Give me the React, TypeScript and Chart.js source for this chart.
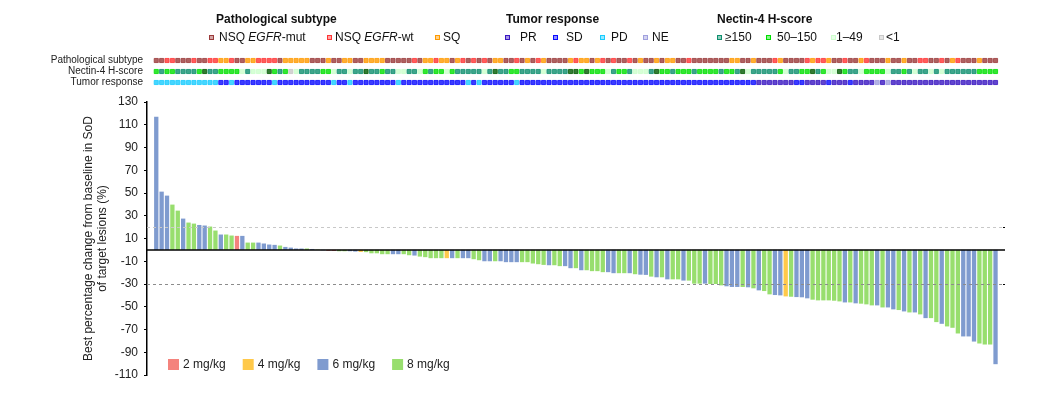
import React, { useEffect, useRef } from 'react';
import { Chart, registerables } from 'chart.js';

Chart.register(...registerables);

const FONT = '"Liberation Sans", Arial, Helvetica, sans-serif';
Chart.defaults.font.family = FONT;

// ---------------- data ----------------
const doseLabels = ['2 mg/kg', '4 mg/kg', '6 mg/kg', '8 mg/kg'];
const doseKeys = [2, 4, 6, 8];
const doseColors = ['#F4837D', '#FFC94A', '#7F9BCF', '#98DE6E'];

const bestChange = [
  117, 51.2, 47.7, 39.8, 34.5, 27.5, 24, 23.1, 21.9, 21.4,
  20.5, 17, 13.5, 13.5, 12.6, 12.3, 12.3, 6.4, 6.4, 6.4,
  5.6, 4.7, 4.4, 3.8, 2.6, 2.0, 1.2, 1.2, 1.2, 0.8,
  0.3, -0.3, -0.8, -1.0, -1.2, -1.2, -1.2, -1.5, -1.8, -2,
  -3, -3, -3.8, -3.8, -3.8, -3.8, -3.8, -4.7, -5, -5.9,
  -6.4, -7.3, -7.3, -7.3, -7.3, -7.3, -7.3, -7.3, -7.3, -8.2,
  -9.1, -10, -10, -10, -10, -10.8, -10.8, -10.8, -10.8, -10.8,
  -12, -12.6, -13.2, -13.5, -13.5, -14.3, -14.3, -16.1, -16.1, -17.9,
  -17.9, -18.7, -18.7, -19.6, -19.6, -20.5, -20.5, -20.5, -20.5, -21.4,
  -21.8, -22, -23.5, -24.1, -24.1, -25.9, -25.9, -25.9, -27, -27,
  -29.7, -29.7, -29.7, -30, -30, -31.2, -32, -32.6, -32.6, -32.6,
  -32.9, -33.8, -35.6, -36.2, -39.1, -39.7, -40, -40.9, -41.2, -41.5,
  -41.7, -42.6, -43.8, -44.4, -44.4, -44.4, -44.7, -45.3, -46.2, -46.2,
  -47, -47.3, -47.9, -48.8, -48.8, -50.6, -50.6, -52.3, -52.9, -54.1,
  -55, -55, -56.7, -60, -60, -63.5, -65, -67.3, -68.5, -73.5,
  -76.1, -76.1, -80.6, -82.3, -83.2, -83.2, -100.5,
];

const doseGroup = [
  6, 6, 6, 8, 8, 6, 8, 8, 6, 6,
  8, 8, 6, 8, 8, 2, 6, 8, 8, 6,
  6, 6, 6, 8, 6, 6, 6, 6, 8, 6,
  8, 6, 2, 2, 8, 8, 6, 6, 4, 8,
  8, 8, 8, 8, 6, 6, 8, 8, 6, 8,
  8, 8, 8, 8, 4, 6, 8, 6, 6, 8,
  8, 6, 6, 8, 6, 6, 6, 6, 8, 8,
  8, 8, 8, 6, 8, 8, 6, 6, 8, 6,
  8, 8, 8, 8, 6, 6, 8, 8, 6, 8,
  6, 6, 8, 6, 8, 6, 8, 8, 6, 8,
  8, 8, 6, 8, 8, 8, 6, 6, 6, 8,
  6, 8, 6, 8, 8, 6, 6, 4, 8, 6,
  6, 6, 8, 8, 8, 8, 8, 8, 6, 8,
  6, 8, 8, 8, 6, 8, 6, 6, 8, 6,
  8, 6, 8, 6, 8, 8, 6, 8, 8, 8,
  6, 6, 6, 8, 8, 8, 6,
];

// Pathological subtype: M = NSQ EGFR-mut, W = NSQ EGFR-wt, S = SQ
const subtypeTrack = [
  'M', 'M', 'W', 'W', 'M', 'M', 'M', 'W', 'M', 'M',
  'W', 'W', 'S', 'S', 'W', 'M', 'M', 'S', 'S', 'W',
  'W', 'W', 'W', 'M', 'S', 'S', 'S', 'S', 'S', 'M',
  'M', 'M', 'S', 'M', 'M', 'S', 'S', 'M', 'M', 'S',
  'S', 'S', 'S', 'M', 'M', 'M', 'M', 'M', 'W', 'M',
  'S', 'S', 'W', 'S', 'S', 'M', 'S', 'W', 'M', 'W',
  'M', 'W', 'M', 'S', 'S', 'M', 'M', 'W', 'M', 'S',
  'M', 'W', 'S', 'M', 'M', 'M', 'M', 'S', 'W', 'S',
  'S', 'M', 'S', 'W', 'M', 'W', 'M', 'M', 'W', 'M',
  'S', 'M', 'M', 'S', 'M', 'S', 'S', 'M', 'M', 'W',
  'M', 'M', 'M', 'M', 'M', 'M', 'M', 'S', 'S', 'M',
  'M', 'S', 'M', 'M', 'M', 'W', 'S', 'M', 'M', 'M',
  'M', 'W', 'S', 'W', 'W', 'S', 'M', 'M', 'W', 'M',
  'M', 'S', 'W', 'M', 'M', 'M', 'S', 'M', 'M', 'S',
  'M', 'M', 'W', 'W', 'M', 'M', 'W', 'M', 'S', 'W',
  'M', 'M', 'M', 'S', 'M', 'M', 'M',
];

// Nectin-4 H-score: T = >=150, G = 50-150, L = 1-49, N = <1, D = dark cells
const nectinTrack = [
  'G', 'T', 'G', 'G', 'T', 'T', 'T', 'T', 'G', 'D',
  'T', 'T', 'G', 'G', 'G', 'G', 'L', 'T', 'L', 'L',
  'L', 'D', 'G', 'T', 'G', 'N', 'L', 'T', 'T', 'T',
  'T', 'G', 'G', 'L', 'T', 'T', 'L', 'T', 'T', 'D',
  'T', 'T', 'G', 'T', 'T', 'L', 'L', 'T', 'T', 'L',
  'G', 'T', 'G', 'G', 'L', 'G', 'T', 'T', 'T', 'T',
  'T', 'L', 'T', 'D', 'T', 'T', 'G', 'G', 'T', 'T',
  'T', 'T', 'L', 'T', 'T', 'T', 'T', 'D', 'D', 'G',
  'D', 'G', 'G', 'G', 'L', 'T', 'G', 'G', 'T', 'L',
  'L', 'L', 'T', 'D', 'G', 'G', 'T', 'G', 'G', 'G',
  'T', 'G', 'G', 'G', 'G', 'T', 'G', 'G', 'T', 'D',
  'L', 'T', 'T', 'T', 'T', 'T', 'G', 'L', 'T', 'T',
  'G', 'G', 'D', 'T', 'G', 'L', 'L', 'D', 'G', 'T',
  'T', 'L', 'G', 'G', 'G', 'G', 'L', 'T', 'T', 'G',
  'T', 'L', 'T', 'T', 'L', 'T', 'L', 'T', 'T', 'T',
  'T', 'T', 'T', 'G', 'G', 'G', 'G',
];

// Tumor response: P = PR, B = SD, C = PD, E = NE
const responseTrack = [
  'C', 'C', 'C', 'C', 'C', 'C', 'C', 'C', 'C', 'C',
  'C', 'C', 'B', 'B', 'C', 'B', 'B', 'B', 'B', 'B',
  'B', 'B', 'C', 'B', 'B', 'B', 'B', 'B', 'B', 'B',
  'B', 'B', 'B', 'C', 'B', 'B', 'C', 'B', 'B', 'B',
  'B', 'B', 'B', 'B', 'B', 'C', 'B', 'B', 'B', 'B',
  'B', 'B', 'B', 'B', 'B', 'B', 'B', 'B', 'C', 'B',
  'C', 'B', 'B', 'B', 'B', 'B', 'B', 'C', 'B', 'B',
  'B', 'B', 'B', 'B', 'B', 'B', 'B', 'B', 'B', 'B',
  'B', 'B', 'B', 'B', 'B', 'B', 'B', 'B', 'B', 'B',
  'B', 'B', 'B', 'B', 'B', 'B', 'B', 'B', 'B', 'B',
  'B', 'B', 'B', 'B', 'B', 'B', 'B', 'B', 'B', 'B',
  'B', 'B', 'P', 'P', 'P', 'P', 'P', 'P', 'P', 'B',
  'B', 'P', 'P', 'P', 'P', 'B', 'P', 'P', 'P', 'B',
  'P', 'P', 'P', 'P', 'E', 'P', 'E', 'P', 'P', 'P',
  'P', 'P', 'P', 'P', 'P', 'P', 'P', 'P', 'P', 'P',
  'P', 'P', 'P', 'P', 'P', 'P', 'P',
];

const trackRows = ['Pathological subtype', 'Nectin-4 H-score', 'Tumor response'];

const subtypeColors: Record<string, string> = { M: '#9B3A3A', W: '#FF3535', S: '#FF9A00' };
const nectinColors: Record<string, string> = { T: '#0E8F6E', G: '#00E000', L: '#CCFFCC', N: '#C8C8C8', D: '#005A00' };
const responseColors: Record<string, string> = { P: '#3A17C2', B: '#0A0AFF', C: '#18CCFF', E: '#A0A0DE' };

const subtypeLegend = [
  { key: 'M', parts: ['NSQ ', 'EGFR', '-mut'], mx: 209, tx: 219 },
  { key: 'W', parts: ['NSQ ', 'EGFR', '-wt'], mx: 327, tx: 335 },
  { key: 'S', parts: ['SQ'], mx: 435, tx: 443 },
];
const responseLegend = [
  { key: 'P', label: 'PR', mx: 505, tx: 520 },
  { key: 'B', label: 'SD', mx: 553, tx: 566 },
  { key: 'C', label: 'PD', mx: 600, tx: 611 },
  { key: 'E', label: 'NE', mx: 643, tx: 652 },
];
const nectinLegend = [
  { key: 'T', label: '\u2265150', mx: 717, tx: 725 },
  { key: 'G', label: '50\u2013150', mx: 766, tx: 777 },
  { key: 'L', label: '1\u201349', mx: 831, tx: 836 },
  { key: 'N', label: '<1', mx: 879, tx: 886 },
];

const refLines = [20, -30];
const yTitle = ['Best percentage change from baseline in SoD', 'of target lesions (%)'];

// ---------------- helpers ----------------
function lighten(hex: string, amt: number) {
  const n = parseInt(hex.slice(1), 16);
  const r = (n >> 16) & 255, g = (n >> 8) & 255, b = n & 255;
  const f = (c: number) => Math.round(c + (255 - c) * amt);
  return `rgb(${f(r)},${f(g)},${f(b)})`;
}

const X_MIN = -1.72;
const X_MAX = bestChange.length - 1 + 1.76;

const refLinePlugin = {
  id: 'refLines',
  afterDatasetsDraw(chart: any) {
    const { ctx, chartArea } = chart;
    const y = chart.scales.y;
    ctx.save();
    refLines.forEach((v, i) => {
      const py = Math.round(y.getPixelForValue(v)) + 0.5;
      ctx.beginPath();
      ctx.setLineDash([3, 3]);
      ctx.lineWidth = 1;
      ctx.strokeStyle = i === 0 ? '#C8C8C8' : '#8C8C8C';
      ctx.moveTo(chartArea.left, py);
      ctx.lineTo(chartArea.right, py);
      ctx.stroke();
      ctx.setLineDash([]);
      ctx.beginPath();
      ctx.strokeStyle = '#000';
      ctx.moveTo(chartArea.right - 2, py);
      ctx.lineTo(chartArea.right, py);
      ctx.stroke();
    });
    const p0 = y.getPixelForValue(0);
    ctx.beginPath();
    ctx.setLineDash([]);
    ctx.lineWidth = 1.5;
    ctx.strokeStyle = '#000';
    ctx.moveTo(chartArea.left, p0);
    ctx.lineTo(chartArea.right, p0);
    ctx.stroke();
    ctx.restore();
  },
};

const doseLegendPlugin = {
  id: 'doseLegend',
  afterDraw(chart: any) {
    const { ctx, chartArea } = chart;
    ctx.save();
    ctx.font = `12px ${FONT}`;
    ctx.textBaseline = 'middle';
    ctx.textAlign = 'left';
    const top = chartArea.bottom - 16;
    doseLabels.forEach((lab, i) => {
      const x = chartArea.left + 21 + i * 74.7;
      ctx.fillStyle = doseColors[i];
      ctx.fillRect(x, top, 11, 11);
      ctx.fillStyle = '#222';
      ctx.fillText(lab, x + 15, top + 6);
    });
    ctx.restore();
  },
};

function Marker({ color, x }: { color: string; x: number }) {
  return (
    <span
      style={{
        position: 'absolute',
        left: x,
        top: 35,
        width: 3,
        height: 3,
        border: `1px solid ${color}`,
        background: lighten(color, 0.55),
      }}
    />
  );
}

function Txt({ x, y, children, bold }: { x: number; y: number; children: any; bold?: boolean }) {
  return (
    <div
      style={{
        position: 'absolute',
        left: x,
        top: y,
        font: `${bold ? 'bold ' : ''}12px ${FONT}`,
        lineHeight: '14px',
        color: '#111',
        whiteSpace: 'nowrap',
      }}
    >
      {children}
    </div>
  );
}

export default function App() {
  const mainRef = useRef<HTMLCanvasElement>(null);
  const trackRef = useRef<HTMLCanvasElement>(null);

  useEffect(() => {
    const main = new Chart(mainRef.current as HTMLCanvasElement, {
      type: 'bar',
      data: {
        datasets: [
          {
            data: bestChange.map((v, i) => ({ x: i, y: v })),
            backgroundColor: doseGroup.map((d) => doseColors[doseKeys.indexOf(d)]),
            borderWidth: 0,
            barPercentage: 0.8,
            categoryPercentage: 1,
          },
        ],
      },
      options: {
        animation: false,
        responsive: false,
        events: [],
        layout: { padding: { top: 102, right: 35, bottom: 23, left: 0 } },
        plugins: { legend: { display: false }, tooltip: { enabled: false } },
        scales: {
          x: { type: 'linear', min: X_MIN, max: X_MAX, display: false, offset: false, grid: { offset: false } },
          y: {
            min: -110,
            max: 130,
            ticks: { stepSize: 20, font: { size: 12, family: FONT }, color: '#222', padding: 6 },
            grid: { drawOnChartArea: false, drawTicks: true, tickLength: 3, color: '#000', lineWidth: 1 },
            border: { display: true, color: '#000', width: 1.5 },
            title: {
              display: true,
              text: yTitle,
              font: { size: 12, family: FONT },
              color: '#222',
              padding: { top: 81, bottom: 0 },
            },
            afterFit: (s: any) => {
              s.width = 147;
            },
          },
        },
      } as any,
      plugins: [refLinePlugin, doseLegendPlugin],
    });

    const mk = (track: string[], colors: Record<string, string>, row: number) => ({
      data: track.map((_, i) => ({ x: i, y: row })),
      pointStyle: 'rect',
      radius: 2.9,
      borderWidth: 0.8,
      borderColor: track.map((c) => colors[c]),
      backgroundColor: track.map((c) => lighten(colors[c], 0.2)),
    });

    const tracks = new Chart(trackRef.current as HTMLCanvasElement, {
      type: 'scatter',
      data: {
        datasets: [
          mk(subtypeTrack, subtypeColors, 0),
          mk(nectinTrack, nectinColors, 1),
          mk(responseTrack, responseColors, 2),
        ] as any,
      },
      options: {
        animation: false,
        responsive: false,
        events: [],
        layout: { padding: { top: 10, right: 35, bottom: 10, left: 0 } },
        plugins: { legend: { display: false }, tooltip: { enabled: false } },
        scales: {
          x: { type: 'linear', min: X_MIN, max: X_MAX, display: false, offset: false },
          y: {
            type: 'linear',
            min: -0.5,
            max: 2.5,
            reverse: true,
            grid: { display: false, drawTicks: false },
            border: { display: false },
            afterBuildTicks: (s: any) => {
              s.ticks = trackRows.map((_, i) => ({ value: i }));
            },
            ticks: {
              autoSkip: false,
              font: { size: 10, family: FONT },
              color: '#222',
              padding: 4,
              callback: (v: any) => trackRows[Math.round(Number(v))] ?? '',
            },
            afterFit: (s: any) => {
              s.width = 147;
            },
          },
        },
      } as any,
    });

    return () => {
      main.destroy();
      tracks.destroy();
    };
  }, []);

  return (
    <div style={{ position: 'fixed', left: 0, top: 0, width: 1040, height: 398, background: '#fff' }}>
      <canvas ref={mainRef} width={1040} height={398} style={{ position: 'absolute', left: 0, top: 0 }} />
      <canvas ref={trackRef} width={1040} height={53} style={{ position: 'absolute', left: 0, top: 45 }} />

      <Txt x={216} y={12} bold>Pathological subtype</Txt>
      <Txt x={506} y={12} bold>Tumor response</Txt>
      <Txt x={717} y={12} bold>Nectin-4 H-score</Txt>

      {subtypeLegend.map((it) => (
        <React.Fragment key={it.key}>
          <Marker color={subtypeColors[it.key]} x={it.mx} />
          <Txt x={it.tx} y={30}>
            {it.parts.length > 1 ? (
              <>
                {it.parts[0]}
                <i>{it.parts[1]}</i>
                {it.parts[2]}
              </>
            ) : (
              it.parts[0]
            )}
          </Txt>
        </React.Fragment>
      ))}
      {responseLegend.map((it) => (
        <React.Fragment key={it.key}>
          <Marker color={responseColors[it.key]} x={it.mx} />
          <Txt x={it.tx} y={30}>{it.label}</Txt>
        </React.Fragment>
      ))}
      {nectinLegend.map((it) => (
        <React.Fragment key={it.key}>
          <Marker color={nectinColors[it.key]} x={it.mx} />
          <Txt x={it.tx} y={30}>{it.label}</Txt>
        </React.Fragment>
      ))}
    </div>
  );
}
